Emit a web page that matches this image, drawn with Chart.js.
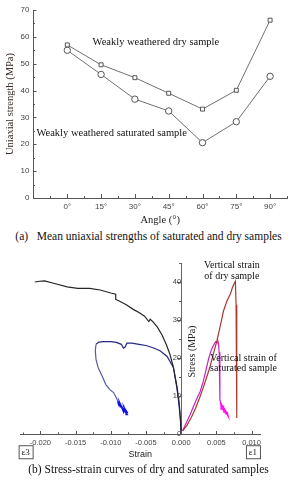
<!DOCTYPE html>
<html>
<head>
<meta charset="utf-8">
<script src="https://cdn.jsdelivr.net/npm/chart.js@4.4.1/dist/chart.umd.min.js"></script>
<style>
  body { margin: 0; width: 297px; height: 480px; background: #fff; position: relative; overflow: hidden; font-family: 'Liberation Serif', serif; }
  #strengthChart { position: absolute; left: 0; top: 0; }
  #strainChart { position: absolute; left: 0; top: 250px; }
  .caption { position: absolute; left: 0; width: 297px; text-align: center; font-size: 11.5px; color: #111; white-space: nowrap; }
</style>
</head>
<body>
<canvas id="strengthChart" width="297" height="228"></canvas>
<div class="caption" style="top:230px">(a)&nbsp;&nbsp; Mean uniaxial strengths of saturated and dry samples</div>
<canvas id="strainChart" width="297" height="214"></canvas>
<div class="caption" style="top:463px">(b) Stress-strain curves of dry and saturated samples</div>
<script>
// (a) mean uniaxial strength vs bedding angle
var angles = [0, 15, 30, 45, 60, 75, 90];
var dryStrength = [57, 49.6, 44.8, 39, 33.1, 40.1, 66.2];
var saturatedStrength = [55, 46, 36.8, 32.4, 20.6, 28.4, 45.3];
var strengthTicks = [0, 10, 20, 30, 40, 50, 60, 70];

// (b) stress-strain curves, strain / stress (MPa)
var dryLateralStrain = [0, -0.0001, -0.0003, -0.0006, -0.0011, -0.0016, -0.0021, -0.0027, -0.0034, -0.0040, -0.0044, -0.0046, -0.0052, -0.0060, -0.0068, -0.0078, -0.0088, -0.0093, -0.0093, -0.0100, -0.0115, -0.0130, -0.0147, -0.0162, -0.0180, -0.0194, -0.0201, -0.0208];
var dryLateralStress = [0, 4, 8.5, 12.5, 17.5, 21, 23.5, 26, 28.2, 29.5, 30.2, 29.6, 31, 32, 32.8, 34, 35, 35.4, 36.8, 37.1, 37.9, 38.3, 38.3, 38.7, 39.6, 40.3, 40.2, 40.0];

var satLateralStrain = [0, -0.0001, -0.0003, -0.0006, -0.0011, -0.0020, -0.0030, -0.0040, -0.0050, -0.0060, -0.0070, -0.0077, -0.0080, -0.0082, -0.0085, -0.0092, -0.0100, -0.0110, -0.0117, -0.0121, -0.0122, -0.0121, -0.0118, -0.0113, -0.0107, -0.0101, -0.0096, -0.0092, -0.0090];
var satLateralStress = [0, 3.5, 7.5, 12, 17.5, 20.4, 21.9, 22.7, 23.3, 23.6, 23.9, 23.9, 22.8, 22.6, 23.6, 24.1, 24.3, 24.3, 24.2, 23.6, 22, 19.6, 17.5, 15.5, 13, 11.6, 10.9, 9.5, 8.6];
var satLateralTailStrain = [-0.0090, -0.0088, -0.0089, -0.0086, -0.0087, -0.0084, -0.0085, -0.0082, -0.0081, -0.0079, -0.0080, -0.0077, -0.0078, -0.0076];
var satLateralTailStress = [8.6, 7.4, 8.6, 7.0, 8.0, 6.8, 7.4, 6.0, 6.8, 5.6, 6.4, 5.2, 6.0, 5.4];

var dryVerticalStrain = [0.0002, 0.0008, 0.0014, 0.0020, 0.0026, 0.0031, 0.0036, 0.0041, 0.0046, 0.0051, 0.0056, 0.0060, 0.0065, 0.0070, 0.0073, 0.0075, 0.0077, 0.0078, 0.0079, 0.0079];
var dryVerticalStress = [0.8, 2.2, 4.2, 6.6, 9.4, 12, 14.8, 17.7, 21.2, 24.7, 28.8, 32.3, 35, 36.9, 38.6, 39.5, 40.2, 34, 31, 4.2];

var satVerticalStrain = [0.0002, 0.0007, 0.0013, 0.0018, 0.0023, 0.0027, 0.0031, 0.0035, 0.0039, 0.0043, 0.0046, 0.0049, 0.0051, 0.0052, 0.0053, 0.0054, 0.0055, 0.0055, 0.0056];
var satVerticalStress = [0.8, 2.8, 5.2, 7.5, 9.6, 11.2, 13.6, 16.6, 19.8, 22.2, 23.4, 24.3, 24.0, 24.6, 23.8, 21.5, 15, 9, 8.2];
var satVerticalTailStrain = [0.0056, 0.0058, 0.0057, 0.0060, 0.0059, 0.0062, 0.0061, 0.0064, 0.0063, 0.0066, 0.0065, 0.0066];
var satVerticalTailStress = [8.2, 6.6, 7.6, 6.2, 7.0, 5.8, 6.6, 5.2, 6.0, 5.0, 5.8, 5.2];

var strainTicks = [-0.020, -0.015, -0.010, -0.005, 0, 0.005, 0.010];
var stressTicks = [0, 10, 20, 30, 40];

function toPoints(xs, ys) {
    return xs.map(function (x, i) { return { x: x, y: ys[i] }; });
}

function setTicks(values) {
    return function (scale) {
        scale.ticks = values.map(function (v) { return { value: v }; });
    };
}

// short inward/outward tick marks, long on labelled values, short half way
var tickMarks = {
    id: 'tickMarks',
    afterDraw: function (chart, args, opts) {
        var ctx = chart.ctx;
        ctx.save();
        ctx.strokeStyle = opts.color;
        ctx.lineWidth = 1;
        ['x', 'y'].forEach(function (id) {
            var s = chart.scales[id];
            var o = opts[id];
            var majors = s.ticks.map(function (t) { return t.value; });
            var step = majors[1] - majors[0];
            var marks = [];
            majors.forEach(function (v) {
                marks.push([v, o.major]);
                marks.push([v - step / 2, o.minor]);
                marks.push([v + step / 2, o.minor]);
            });
            var base = id === 'x' ? chart.chartArea.bottom
                : (o.atX !== undefined ? chart.scales.x.getPixelForValue(o.atX) : chart.chartArea.left);
            ctx.beginPath();
            marks.forEach(function (m) {
                if (m[0] < s.min - 1e-9 || m[0] > s.max + 1e-9) return;
                var p = Math.round(s.getPixelForValue(m[0])) + 0.5;
                if (id === 'x') {
                    ctx.moveTo(p, base);
                    ctx.lineTo(p, base + o.dir * m[1]);
                } else {
                    ctx.moveTo(base, p);
                    ctx.lineTo(base + o.dir * m[1], p);
                }
            });
            ctx.stroke();
        });
        ctx.restore();
    }
};

// text notes placed in data coordinates
var notes = {
    id: 'notes',
    afterDraw: function (chart, args, opts) {
        var ctx = chart.ctx;
        (opts.items || []).forEach(function (n) {
            var x = chart.scales.x.getPixelForValue(n.x);
            var y = chart.scales.y.getPixelForValue(n.y);
            ctx.save();
            ctx.font = n.font;
            ctx.fillStyle = n.color || '#111';
            ctx.textAlign = 'center';
            ctx.textBaseline = 'middle';
            ctx.translate(x, y);
            if (n.rotate) ctx.rotate(n.rotate);
            n.lines.forEach(function (t, i) { ctx.fillText(t, 0, i * (n.lineHeight || 0)); });
            if (n.box) {
                var w = ctx.measureText(n.lines[0]).width;
                ctx.strokeStyle = '#555';
                ctx.lineWidth = 1;
                ctx.strokeRect(Math.round(-w / 2 - 3) + 0.5, -6.5, Math.round(w + 6), 13);
            }
            ctx.restore();
        });
    }
};

var tickFont = { family: "'Liberation Sans', Arial, sans-serif", size: 8 };

var strengthChart = new Chart(document.getElementById('strengthChart'), {
    type: 'line',
    data: {
        datasets: [{
            label: 'Weakly weathered dry sample',
            data: toPoints(angles, dryStrength),
            borderColor: '#707070',
            borderWidth: 1,
            pointStyle: 'rect',
            pointRadius: 2.8,
            pointBackgroundColor: '#fff',
            pointBorderColor: '#555',
            pointBorderWidth: 1
        }, {
            label: 'Weakly weathered saturated sample',
            data: toPoints(angles, saturatedStrength),
            borderColor: '#707070',
            borderWidth: 1,
            pointStyle: 'circle',
            pointRadius: 3.2,
            pointBackgroundColor: '#fff',
            pointBorderColor: '#555',
            pointBorderWidth: 1
        }]
    },
    options: {
        responsive: false,
        animation: false,
        layout: { padding: { left: 0, top: 10, right: 10, bottom: 0 } },
        scales: {
            x: {
                type: 'linear',
                min: -15,
                max: 97.5,
                afterBuildTicks: setTicks(angles),
                afterFit: function (s) { s.height = 30; },
                grid: { display: false, drawTicks: false },
                border: { color: '#555', width: 1 },
                ticks: { font: tickFont, color: '#444', padding: 4, maxRotation: 0, callback: function (v) { return v + '°'; } },
                title: { display: true, text: 'Angle (°)', font: { family: "'Liberation Serif', serif", size: 10.5 }, color: '#222', padding: { top: 0, bottom: 1 } }
            },
            y: {
                min: 0,
                max: 70,
                afterBuildTicks: setTicks(strengthTicks),
                afterFit: function (s) { s.width = 33.5; },
                grid: { display: false, drawTicks: false },
                border: { color: '#555', width: 1 },
                ticks: { font: tickFont, color: '#444', padding: 4 },
                title: { display: true, text: 'Uniaxial strength (MPa)', font: { family: "'Liberation Serif', serif", size: 10.5 }, color: '#3a2e28', padding: { top: 4, bottom: 0 } }
            }
        },
        plugins: {
            legend: { display: false },
            tooltip: { enabled: false },
            tickMarks: {
                color: '#555',
                x: { major: 4, minor: 2, dir: -1 },
                y: { major: 3, minor: 1.5, dir: 1 }
            },
            notes: {
                items: [
                    { x: 39.3, y: 58.1, lines: ['Weakly weathered dry sample'], font: "10.5px 'Liberation Serif', serif" },
                    { x: 19.7, y: 24.2, lines: ['Weakly weathered saturated sample'], font: "10.5px 'Liberation Serif', serif" }
                ]
            }
        }
    },
    plugins: [tickMarks, notes]
});

var satLateralColor = function (ctx) { return ctx.p0DataIndex >= 19 ? '#5a5aa8' : '#25258a'; };

var strainChart = new Chart(document.getElementById('strainChart'), {
    type: 'scatter',
    data: {
        datasets: [{
            label: 'Lateral strain of dry sample',
            data: toPoints(dryLateralStrain, dryLateralStress),
            borderColor: '#262626',
            borderWidth: 1.2
        }, {
            label: 'Lateral strain of saturated sample',
            data: toPoints(satLateralStrain, satLateralStress),
            borderColor: '#25258a',
            segment: { borderColor: satLateralColor },
            borderWidth: 1.2
        }, {
            label: 'Lateral strain of saturated sample (tail)',
            data: toPoints(satLateralTailStrain, satLateralTailStress),
            borderColor: '#1010e8',
            borderWidth: 1.8
        }, {
            label: 'Vertical strain of dry sample',
            data: toPoints(dryVerticalStrain, dryVerticalStress),
            borderColor: '#a63a30',
            borderWidth: 1.2
        }, {
            label: 'Vertical strain of saturated sample',
            data: toPoints(satVerticalStrain, satVerticalStress),
            borderColor: '#cc22c4',
            borderWidth: 1.2
        }, {
            label: 'Vertical strain of saturated sample (tail)',
            data: toPoints(satVerticalTailStrain, satVerticalTailStress),
            borderColor: '#ff10f0',
            borderWidth: 1.8
        }]
    },
    options: {
        responsive: false,
        animation: false,
        showLine: true,
        elements: { point: { radius: 0 }, line: { tension: 0 } },
        layout: { padding: { left: 20.7, top: 13, right: 37, bottom: 0 } },
        scales: {
            x: {
                type: 'linear',
                min: -0.0228,
                max: 0.0112,
                afterBuildTicks: setTicks(strainTicks),
                afterFit: function (s) { s.height = 30; },
                grid: { display: false, drawTicks: false },
                border: { color: '#555', width: 1 },
                ticks: { font: { family: "'Liberation Sans', Arial, sans-serif", size: 7.5 }, color: '#444', padding: 4, maxRotation: 0, callback: function (v) { return v.toFixed(3); } },
                title: { display: true, text: 'Strain', font: { family: "'Liberation Sans', Arial, sans-serif", size: 9 }, color: '#222', padding: { top: 0, bottom: 4 } }
            },
            y: {
                position: { x: 0 },
                min: 0,
                max: 45,
                afterBuildTicks: setTicks(stressTicks),
                grid: { display: false, drawTicks: false },
                border: { color: '#666', width: 1 },
                ticks: { font: { family: "'Liberation Sans', Arial, sans-serif", size: 7.5 }, color: '#444', padding: 5 }
            }
        },
        plugins: {
            legend: { display: false },
            tooltip: { enabled: false },
            tickMarks: {
                color: '#555',
                x: { major: 3, minor: 1.5, dir: -1 },
                y: { major: 4, minor: 2, dir: -1, atX: 0 }
            },
            notes: {
                items: [
                    { x: 0.0072, y: 44.4, lines: ['Vertical strain', 'of dry sample'], lineHeight: 10.7, font: "10px 'Liberation Serif', serif" },
                    { x: 0.00886, y: 19.9, lines: ['Vertical strain of', 'saturated sample'], lineHeight: 10, font: "10px 'Liberation Serif', serif" },
                    { x: 0.0016, y: 21.7, lines: ['Stress (MPa)'], font: "10px 'Liberation Serif', serif", rotate: -Math.PI / 2, color: '#222' },
                    { x: -0.0221, y: -4.8, lines: ['ε3'], font: "9px 'Liberation Serif', serif", box: true },
                    { x: 0.0102, y: -4.8, lines: ['ε1'], font: "9px 'Liberation Serif', serif", box: true }
                ]
            }
        }
    },
    plugins: [tickMarks, notes]
});
</script>
</body>
</html>
